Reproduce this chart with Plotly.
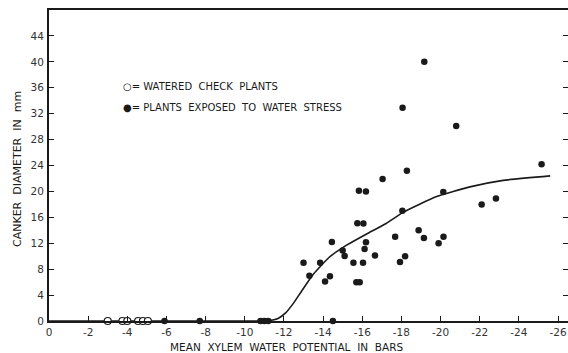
import plotly.graph_objects as go

# Watered check plants (open circles), all at 0 mm canker diameter
watered_x = [-3.0, -3.75, -4.0, -4.55, -4.8, -5.05]
watered_y = [0, 0, 0, 0, 0, 0]

# Plants exposed to water stress (filled circles)
stress_x = [-5.9, -7.7, -10.8, -11.0, -11.2, -14.5,
            -13.0, -13.3, -13.85, -14.1, -14.35, -14.45, -15.0, -15.1, -15.55,
            -15.7, -15.87, -15.83, -16.19, -15.75, -16.06, -16.19, -16.12, -16.04,
            -16.65, -17.04, -17.68, -17.93, -18.05, -18.06, -18.19, -18.28, -18.88,
            -19.15, -19.17, -19.9, -20.15, -20.14, -20.8, -22.1, -22.83, -25.16]
stress_y = [0, 0, 0, 0, 0, 0,
            9.0, 7.0, 9.0, 6.1, 6.9, 12.2, 10.9, 10.05, 9.0,
            6.0, 6.0, 20.1, 20.0, 15.1, 15.05, 12.15, 11.1, 9.0,
            10.1, 21.9, 13.0, 9.1, 17.0, 32.9, 10.0, 23.2, 14.0,
            12.8, 40.0, 12.0, 13.0, 19.9, 30.1, 18.0, 18.9, 24.2]

# Fitted curve
curve_x = [0, -6, -10, -11.2, -11.7, -12.1, -12.5, -12.9, -13.5, -14.3, -15.2,
           -16.2, -17.2, -18.1, -19.8, -21.5, -23.2, -25.6]
curve_y = [0, 0, 0, 0.05, 0.4, 1.3, 2.8, 4.6, 7.2, 9.8, 11.7,
           13.4, 15.0, 16.8, 19.2, 20.7, 21.7, 22.4]

x_ticks = [0, -2, -4, -6, -8, -10, -12, -14, -16, -18, -20, -22, -24, -26]
x_tick_text = ["0", "-2", "-4", "-6", "-8", "-10", "-12", "-14", "-16", "-18",
               "-20", "-22", "-24", "-26"]
y_ticks = [0, 4, 8, 12, 16, 20, 24, 28, 32, 36, 40, 44]

FONT = "DejaVu Sans"
INK = "#1a1a1a"

fig = go.Figure()
fig.add_trace(go.Scatter(x=curve_x, y=curve_y, mode="lines",
                         line=dict(color=INK, width=1.6, shape="spline", smoothing=0.5),
                         showlegend=False, hoverinfo="skip", cliponaxis=False))
fig.add_trace(go.Scatter(x=watered_x, y=watered_y, mode="markers",
                         marker=dict(symbol="circle", size=7, color="white",
                                     line=dict(color=INK, width=1.2)),
                         showlegend=False, cliponaxis=False))
fig.add_trace(go.Scatter(x=stress_x, y=stress_y, mode="markers",
                         marker=dict(symbol="circle", size=6.5, color=INK),
                         showlegend=False, cliponaxis=False))
# invisible trace to activate right-side tick axis
fig.add_trace(go.Scatter(x=[0], y=[0], yaxis="y2", mode="markers",
                         marker=dict(opacity=0), showlegend=False, hoverinfo="skip"))

fig.update_layout(
    width=568, height=353,
    margin=dict(l=49, r=0, t=10, b=32),
    paper_bgcolor="white", plot_bgcolor="white",
    font=dict(family=FONT, size=10, color=INK),
    xaxis=dict(range=[0, -26.51], tickvals=x_ticks, ticktext=x_tick_text,
               ticks="inside", ticklen=5, tickwidth=1.2, tickcolor=INK,
               showline=True, linewidth=2, linecolor=INK, mirror=True,
               showgrid=False, zeroline=False, ticklabelstandoff=0,
               tickfont=dict(family=FONT, size=10.5, color="#333")),
    yaxis=dict(range=[0, 48], tickvals=y_ticks,
               ticks="inside", ticklen=5, tickwidth=1.2, tickcolor=INK,
               showline=True, linewidth=2, linecolor=INK,
               showgrid=False, zeroline=False, ticklabelstandoff=1,
               tickfont=dict(family=FONT, size=10.5, color="#333")),
    yaxis2=dict(range=[0, 48], tickvals=y_ticks, overlaying="y", side="right",
                ticks="inside", ticklen=5, tickwidth=1.2, tickcolor=INK,
                showticklabels=False, showline=False, showgrid=False, zeroline=False),
    annotations=[
        dict(text="MEAN  XYLEM  WATER  POTENTIAL  IN  BARS", xref="paper", yref="paper",
             x=(286 - 49) / 519, y=-(346.5 - 321) / 311, xanchor="center", yanchor="middle",
             showarrow=False, font=dict(family=FONT, size=10.5, color=INK)),
        dict(text="CANKER  DIAMETER  IN  mm", xref="paper", yref="paper",
             x=-(49 - 17) / 519, y=(321 - 169) / 311, textangle=-90,
             xanchor="center", yanchor="middle",
             showarrow=False, font=dict(family=FONT, size=11, color=INK)),
        dict(text="○= WATERED  CHECK  PLANTS", xref="paper", yref="paper",
             x=(121 - 49) / 519, y=(321 - 87) / 311, xanchor="left", yanchor="middle",
             showarrow=False, font=dict(family=FONT, size=10, color=INK)),
        dict(text="●= PLANTS  EXPOSED  TO  WATER  STRESS", xref="paper", yref="paper",
             x=(121 - 49) / 519, y=(321 - 107) / 311, xanchor="left", yanchor="middle",
             showarrow=False, font=dict(family=FONT, size=10, color=INK)),
    ],
)

fig.write_html("out.html")
